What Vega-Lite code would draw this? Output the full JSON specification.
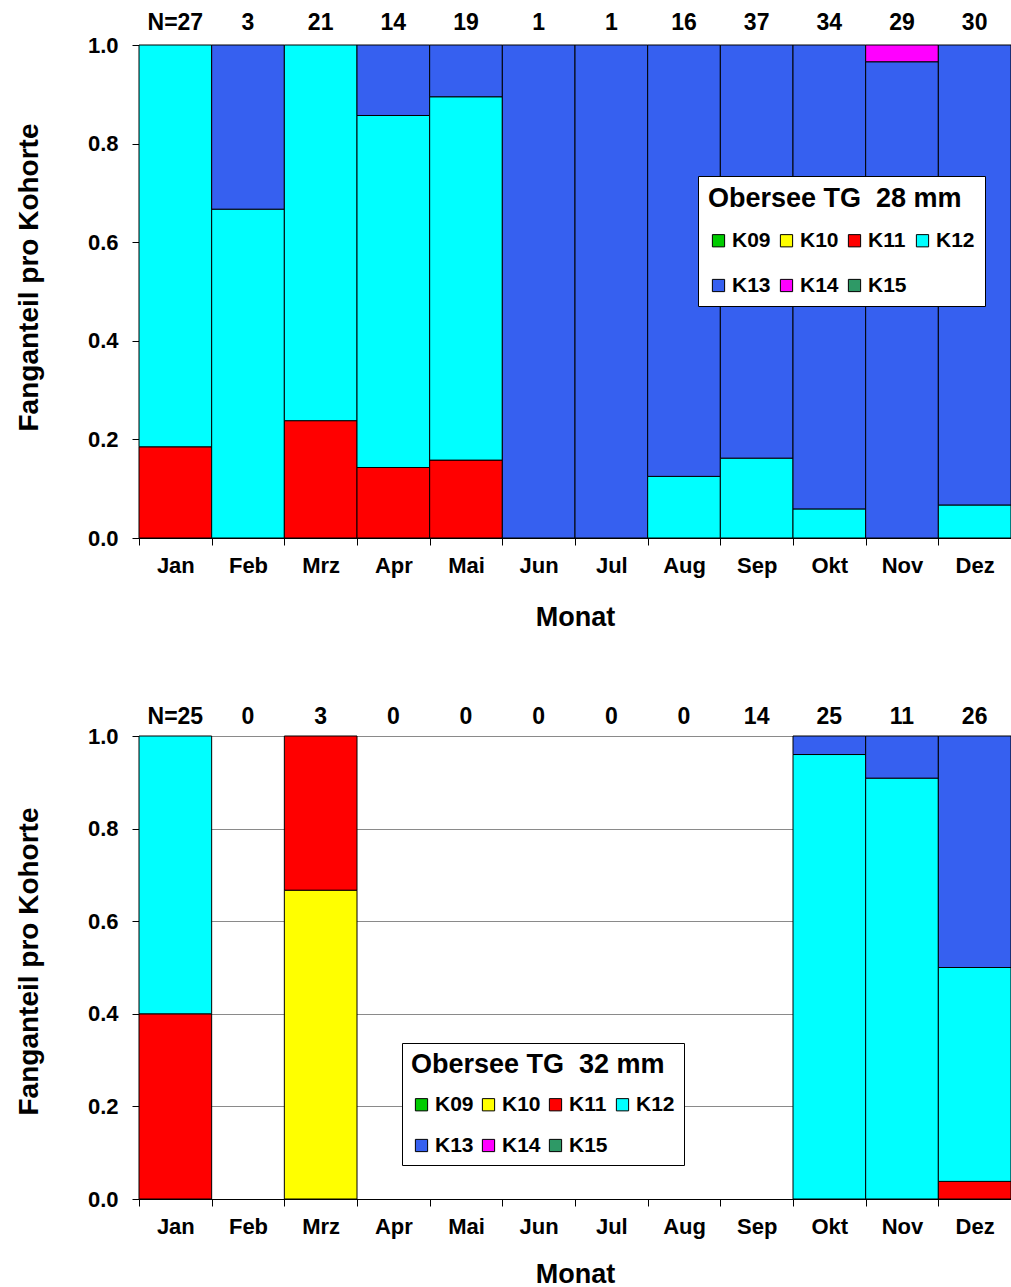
{
  "$schema": "https://vega.github.io/schema/vega-lite/v6.json",
  "padding": {"left": 15, "top": 12, "right": 0, "bottom": 0},
  "background": "white",
  "config": {
    "font": "Liberation Sans",
    "view": {"stroke": null},
    "axis": {
      "labelFont": "Liberation Sans",
      "titleFont": "Liberation Sans",
      "labelFontWeight": "bold",
      "titleFontWeight": "bold",
      "labelColor": "black",
      "titleColor": "black",
      "domainColor": "black",
      "tickColor": "black",
      "tickSize": 7,
      "domainWidth": 1,
      "tickWidth": 1
    },
    "legend": {
      "titleFont": "Liberation Sans",
      "labelFont": "Liberation Sans"
    }
  },
  "datasets": {
    "p28": [
      {"monat": "Jan", "kohorte": "K11", "anteil": 0.185},
      {"monat": "Jan", "kohorte": "K12", "anteil": 0.815},
      {"monat": "Feb", "kohorte": "K12", "anteil": 0.667},
      {"monat": "Feb", "kohorte": "K13", "anteil": 0.333},
      {"monat": "Mrz", "kohorte": "K11", "anteil": 0.238},
      {"monat": "Mrz", "kohorte": "K12", "anteil": 0.762},
      {"monat": "Apr", "kohorte": "K11", "anteil": 0.143},
      {"monat": "Apr", "kohorte": "K12", "anteil": 0.714},
      {"monat": "Apr", "kohorte": "K13", "anteil": 0.143},
      {"monat": "Mai", "kohorte": "K11", "anteil": 0.158},
      {"monat": "Mai", "kohorte": "K12", "anteil": 0.737},
      {"monat": "Mai", "kohorte": "K13", "anteil": 0.105},
      {"monat": "Jun", "kohorte": "K13", "anteil": 1.0},
      {"monat": "Jul", "kohorte": "K13", "anteil": 1.0},
      {"monat": "Aug", "kohorte": "K12", "anteil": 0.125},
      {"monat": "Aug", "kohorte": "K13", "anteil": 0.875},
      {"monat": "Sep", "kohorte": "K12", "anteil": 0.162},
      {"monat": "Sep", "kohorte": "K13", "anteil": 0.838},
      {"monat": "Okt", "kohorte": "K12", "anteil": 0.059},
      {"monat": "Okt", "kohorte": "K13", "anteil": 0.941},
      {"monat": "Nov", "kohorte": "K13", "anteil": 0.966},
      {"monat": "Nov", "kohorte": "K14", "anteil": 0.034},
      {"monat": "Dez", "kohorte": "K12", "anteil": 0.067},
      {"monat": "Dez", "kohorte": "K13", "anteil": 0.933}
    ],
    "n28": [
      {"monat": "Jan", "label": "N=27"},
      {"monat": "Feb", "label": "3"},
      {"monat": "Mrz", "label": "21"},
      {"monat": "Apr", "label": "14"},
      {"monat": "Mai", "label": "19"},
      {"monat": "Jun", "label": "1"},
      {"monat": "Jul", "label": "1"},
      {"monat": "Aug", "label": "16"},
      {"monat": "Sep", "label": "37"},
      {"monat": "Okt", "label": "34"},
      {"monat": "Nov", "label": "29"},
      {"monat": "Dez", "label": "30"}
    ],
    "p32": [
      {"monat": "Jan", "kohorte": "K11", "anteil": 0.4},
      {"monat": "Jan", "kohorte": "K12", "anteil": 0.6},
      {"monat": "Mrz", "kohorte": "K10", "anteil": 0.667},
      {"monat": "Mrz", "kohorte": "K11", "anteil": 0.333},
      {"monat": "Okt", "kohorte": "K12", "anteil": 0.96},
      {"monat": "Okt", "kohorte": "K13", "anteil": 0.04},
      {"monat": "Nov", "kohorte": "K12", "anteil": 0.909},
      {"monat": "Nov", "kohorte": "K13", "anteil": 0.091},
      {"monat": "Dez", "kohorte": "K11", "anteil": 0.038},
      {"monat": "Dez", "kohorte": "K12", "anteil": 0.462},
      {"monat": "Dez", "kohorte": "K13", "anteil": 0.5}
    ],
    "n32": [
      {"monat": "Jan", "label": "N=25"},
      {"monat": "Feb", "label": "0"},
      {"monat": "Mrz", "label": "3"},
      {"monat": "Apr", "label": "0"},
      {"monat": "Mai", "label": "0"},
      {"monat": "Jun", "label": "0"},
      {"monat": "Jul", "label": "0"},
      {"monat": "Aug", "label": "0"},
      {"monat": "Sep", "label": "14"},
      {"monat": "Okt", "label": "25"},
      {"monat": "Nov", "label": "11"},
      {"monat": "Dez", "label": "26"}
    ]
  },
  "resolve": {"legend": {"color": "independent"}},
  "spacing": 76,
  "vconcat": [
    {
      "width": 872,
      "height": 493,
      "encoding": {
        "x": {
          "field": "monat", "type": "nominal",
          "sort": ["Jan","Feb","Mrz","Apr","Mai","Jun","Jul","Aug","Sep","Okt","Nov","Dez"],
          "scale": {"domain": ["Jan","Feb","Mrz","Apr","Mai","Jun","Jul","Aug","Sep","Okt","Nov","Dez"], "paddingInner": 0, "paddingOuter": 0},
          "axis": {"title": "Monat", "titleFontSize": 27, "titlePadding": 28, "labelFontSize": 22, "labelAngle": 0, "labelPadding": 10, "tickBand": "extent", "grid": false}
        }
      },
      "layer": [
        {
          "data": {"name": "p28"},
          "mark": {"type": "bar", "stroke": "black", "strokeWidth": 1},
          "encoding": {
            "y": {
              "field": "anteil", "type": "quantitative", "stack": "zero",
              "scale": {"domain": [0, 1], "nice": false},
              "axis": {"title": "Fanganteil pro Kohorte", "titleFontSize": 28, "titlePadding": 44, "titleY": 232, "labelFontSize": 22, "labelPadding": 14, "values": [0, 0.2, 0.4, 0.6, 0.8, 1.0], "format": ".1f", "grid": true, "gridColor": "#8a8a8a", "gridWidth": 1}
            },
            "color": {
              "field": "kohorte", "type": "nominal",
              "scale": {"domain": ["K09","K10","K11","K12","K13","K14","K15"], "range": ["#00CC00","#FFFF00","#FF0000","#00FFFF","#3660F0","#FF00FF","#2E9966"]},
              "legend": {
                "title": "Obersee TG\u00a0 28 mm", "orient": "none", "legendX": 559, "legendY": 131,
                "columns": 4, "direction": "horizontal",
                "titleFontSize": 27, "titleFontWeight": "bold", "titleColor": "black", "titlePadding": 17, "titleLimit": 500,
                "labelFontSize": 21, "labelFontWeight": "bold", "labelColor": "black", "labelOffset": 3, "labelLimit": 200,
                "symbolType": "square", "symbolSize": 150, "symbolStrokeColor": "black", "symbolStrokeWidth": 1, "symbolOpacity": 1,
                "fillColor": "white", "strokeColor": "black", "padding": 10, "rowPadding": 23, "columnPadding": 5
              }
            },
            "order": {"field": "kohorte", "sort": "ascending"}
          }
        },
        {
          "data": {"name": "n28"},
          "mark": {"type": "text", "fontSize": 23, "fontWeight": "bold", "dy": -15, "baseline": "alphabetic", "color": "black"},
          "encoding": {
            "y": {"datum": 1, "type": "quantitative"},
            "text": {"field": "label", "type": "nominal"}
          }
        }
      ]
    },
    {
      "width": 872,
      "height": 463,
      "encoding": {
        "x": {
          "field": "monat", "type": "nominal",
          "sort": ["Jan","Feb","Mrz","Apr","Mai","Jun","Jul","Aug","Sep","Okt","Nov","Dez"],
          "scale": {"domain": ["Jan","Feb","Mrz","Apr","Mai","Jun","Jul","Aug","Sep","Okt","Nov","Dez"], "paddingInner": 0, "paddingOuter": 0},
          "axis": {"title": "Monat", "titleFontSize": 27, "titlePadding": 24, "labelFontSize": 22, "labelAngle": 0, "labelPadding": 10, "tickBand": "extent", "grid": false}
        }
      },
      "layer": [
        {
          "data": {"name": "p32"},
          "mark": {"type": "bar", "stroke": "black", "strokeWidth": 1},
          "encoding": {
            "y": {
              "field": "anteil", "type": "quantitative", "stack": "zero",
              "scale": {"domain": [0, 1], "nice": false},
              "axis": {"title": "Fanganteil pro Kohorte", "titleFontSize": 28, "titlePadding": 44, "titleY": 225, "labelFontSize": 22, "labelPadding": 14, "values": [0, 0.2, 0.4, 0.6, 0.8, 1.0], "format": ".1f", "grid": true, "gridColor": "#8a8a8a", "gridWidth": 1}
            },
            "color": {
              "field": "kohorte", "type": "nominal",
              "scale": {"domain": ["K09","K10","K11","K12","K13","K14","K15"], "range": ["#00CC00","#FFFF00","#FF0000","#00FFFF","#3660F0","#FF00FF","#2E9966"]},
              "legend": {
                "title": "Obersee TG\u00a0 32 mm", "orient": "none", "legendX": 263, "legendY": 307,
                "columns": 4, "direction": "horizontal",
                "titleFontSize": 27, "titleFontWeight": "bold", "titleColor": "black", "titlePadding": 15, "titleLimit": 500,
                "labelFontSize": 21, "labelFontWeight": "bold", "labelColor": "black", "labelOffset": 3, "labelLimit": 200,
                "symbolType": "square", "symbolSize": 150, "symbolStrokeColor": "black", "symbolStrokeWidth": 1, "symbolOpacity": 1,
                "fillColor": "white", "strokeColor": "black", "padding": 9, "rowPadding": 19, "columnPadding": 4
              }
            },
            "order": {"field": "kohorte", "sort": "ascending"}
          }
        },
        {
          "data": {"name": "n32"},
          "mark": {"type": "text", "fontSize": 23, "fontWeight": "bold", "dy": -12, "baseline": "alphabetic", "color": "black"},
          "encoding": {
            "y": {"datum": 1, "type": "quantitative"},
            "text": {"field": "label", "type": "nominal"}
          }
        }
      ]
    }
  ]
}
